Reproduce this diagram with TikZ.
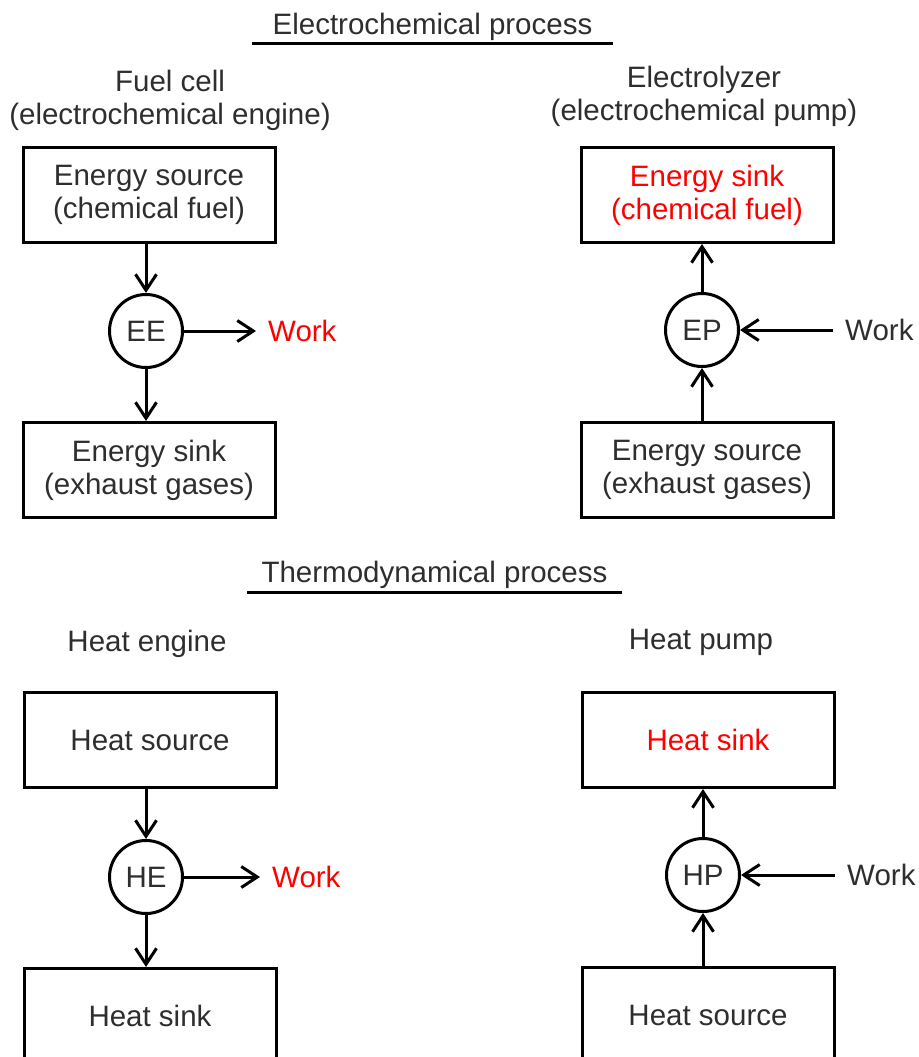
\documentclass[tikz,border=0pt]{standalone}
\usepackage{fontspec}
\setmainfont{Liberation Sans}
\usetikzlibrary{arrows.meta,positioning}
\definecolor{txt}{HTML}{2E2E2E}
\definecolor{hot}{HTML}{FF0000}

\begin{document}
\begin{tikzpicture}[x=1pt,y=-1pt,
  font=\fontsize{29.5}{33}\selectfont, text=txt,
  bx/.style={draw,line width=3pt,minimum width=252pt,minimum height=95pt,
             inner sep=0pt,align=center},
  eng/.style={draw,circle,line width=3pt,minimum size=73pt,inner sep=0pt},
  ttl/.style={anchor=south,inner xsep=0pt,inner ysep=3pt},
  sub/.style={align=center},
  wk/.style={inner xsep=12pt,inner ysep=0pt},
  ul/.style={line width=3pt},
  ar/.style={-{Straight Barb[length=16pt,width=21pt,line width=3pt]},line width=3pt}]
\useasboundingbox (0,0) rectangle (918,1057);
\node[ttl,minimum width=361pt] (ec) at (432.5,44) {Electrochemical process};
\node[ttl,minimum width=375pt] (td) at (434.5,592) {Thermodynamical process};
\draw[ul] (ec.south west) -- (ec.south east);
\draw[ul] (td.south west) -- (td.south east);
\node[sub] (fc) at (170,100) {Fuel cell\\(electrochemical engine)};
\node[sub] (el) at (704,96) {Electrolyzer\\(electrochemical pump)};
\node[sub] (hen) at (147,644) {Heat engine};
\node[sub] (hpu) at (701,642) {Heat pump};
\node[bx] (fcsrc) at (149,195) {Energy source\\(chemical fuel)};
\node[bx] (fcsnk) at (149,470) {Energy sink\\(exhaust gases)};
\node[bx,text=hot] (elsnk) at (707,195) {Energy sink\\(chemical fuel)};
\node[bx] (elsrc) at (707,470) {Energy source\\(exhaust gases)};
\node[bx] (hesrc) at (150,740) {Heat source};
\node[bx] (hesnk) at (150,1016) {Heat sink};
\node[bx,text=hot] (hpsnk) at (708,740) {Heat sink};
\node[bx] (hpsrc) at (708,1015) {Heat source};
\node[eng] (ee) at (146,331) {EE};
\node[eng] (ep) at (702,330) {EP};
\node[eng] (he) at (146,877) {HE};
\node[eng] (hp) at (703,875) {HP};
\node[wk,text=hot,right=72pt of ee] (wee) {Work};
\node[wk,text=hot,right=76pt of he] (whe) {Work};
\node[wk,right=93pt of ep] (wep) {Work};
\node[wk,right=94pt of hp] (whp) {Work};
\foreach \c/\a/\b in {ee/fcsrc/fcsnk,he/hesrc/hesnk} {
  \draw[ar] (\c |- \a.south) -- (\c);
  \draw[ar] (\c) -- (\c |- \b.north);
  \draw[ar] (\c) -- (w\c);}
\foreach \c/\a/\b in {ep/elsrc/elsnk,hp/hpsrc/hpsnk} {
  \draw[ar] (\c |- \a.north) -- (\c);
  \draw[ar] (\c) -- (\c |- \b.south);
  \draw[ar] (w\c) -- (\c);}
\end{tikzpicture}
\end{document}
